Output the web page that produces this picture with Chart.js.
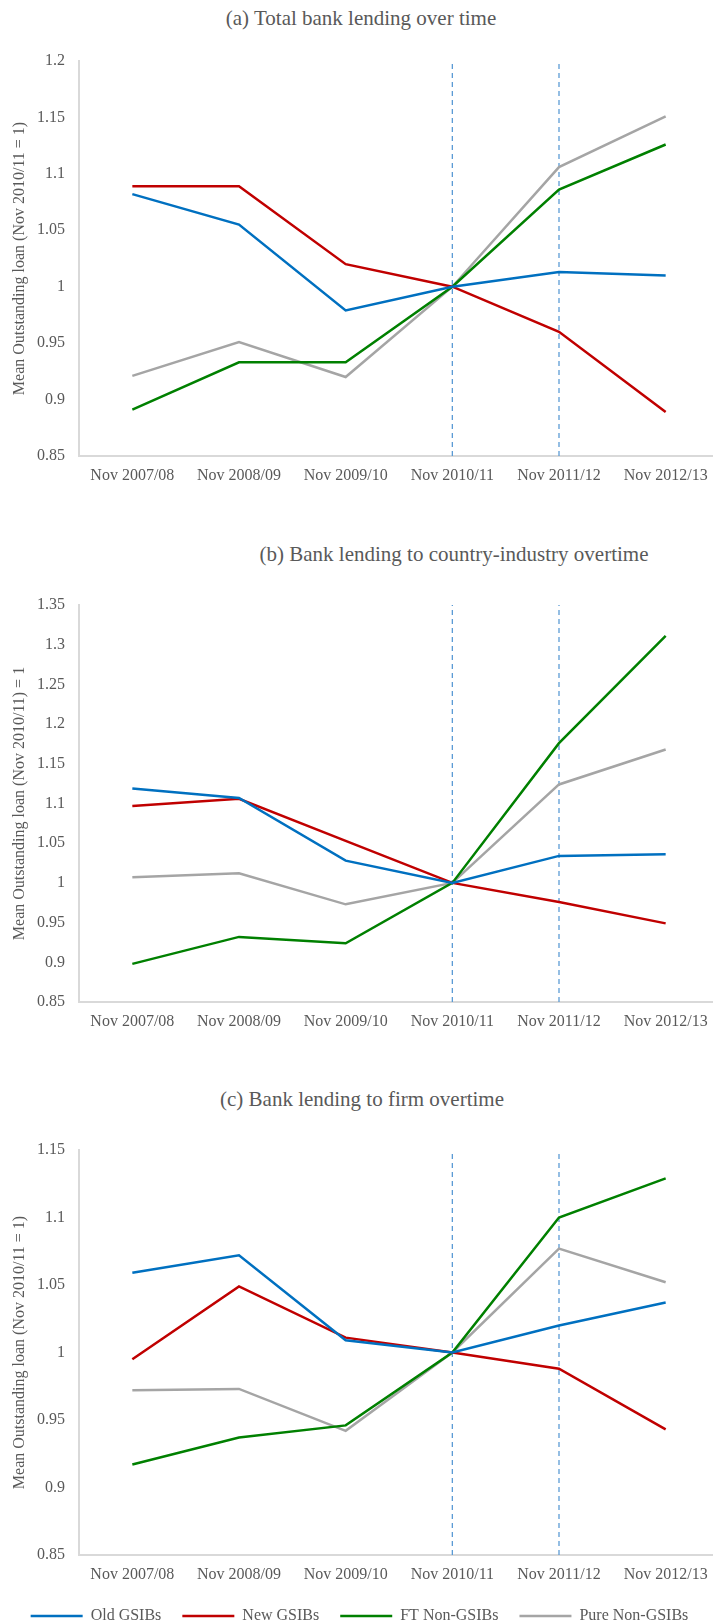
<!DOCTYPE html>
<html>
<head>
<meta charset="utf-8">
<script src="https://cdn.jsdelivr.net/npm/chart.js@4/dist/chart.umd.min.js"></script>
<style>
  html, body { margin: 0; padding: 0; background: #fff; overflow: hidden; }
  body { width: 713px; height: 1622px; position: relative; }
  .title {
    position: absolute; transform: translateX(-50%); white-space: nowrap;
    font-family: "Liberation Serif", "Times New Roman", serif; font-size: 21px;
    line-height: 24px; color: #595959;
  }
  canvas { position: absolute; left: 0; }
</style>
</head>
<body>
<div class="title" style="left:361px; top:6px;">(a) Total bank lending over time</div>
<div class="title" style="left:454px; top:542px;">(b) Bank lending to country-industry overtime</div>
<div class="title" style="left:362px; top:1087px;">(c) Bank lending to firm overtime</div>
<canvas id="chartA" width="719" height="496" style="top:0px"></canvas>
<canvas id="chartB" width="719" height="482" style="top:560px"></canvas>
<canvas id="chartC" width="719" height="524" style="top:1110px"></canvas>
<script>
const categories = ['Nov 2007/08', 'Nov 2008/09', 'Nov 2009/10', 'Nov 2010/11', 'Nov 2011/12', 'Nov 2012/13'];
const seriesNames = ['Old GSIBs', 'New GSIBs', 'FT Non-GSIBs', 'Pure Non-GSIBs'];
const seriesColors = ['#0070C0', '#C00000', '#008000', '#A5A5A5'];
const markerDates = ['Nov 2010/11', 'Nov 2011/12'];

// (a) total lending
const totalOld = [1.082, 1.055, 0.979, 1, 1.013, 1.010];
const totalNew = [1.089, 1.089, 1.020, 1, 0.960, 0.889];
const totalFT = [0.891, 0.933, 0.933, 1, 1.086, 1.126];
const totalPure = [0.921, 0.951, 0.920, 1, 1.106, 1.151];
const totalRange = [0.85, 1.2];

// (b) country-industry
const industryOld = [1.119, 1.107, 1.028, 1, 1.034, 1.036];
const industryNew = [1.097, 1.106, 1.053, 1, 0.976, 0.949];
const industryFT = [0.898, 0.932, 0.924, 1, 1.176, 1.311];
const industryPure = [1.007, 1.012, 0.973, 1, 1.124, 1.168];
const industryRange = [0.85, 1.35];

// (c) firm
const firmOld = [1.059, 1.072, 1.009, 1, 1.020, 1.037];
const firmNew = [0.995, 1.049, 1.011, 1, 0.988, 0.943];
const firmFT = [0.917, 0.937, 0.946, 1, 1.100, 1.129];
const firmPure = [0.972, 0.973, 0.942, 1, 1.077, 1.052];
const firmRange = [0.85, 1.15];

const yStep = 0.05;
const textColor = '#595959';
const serif = '"Liberation Serif", "Times New Roman", serif';

function makeChart(id, series, range, yTitle, opts) {
    const datasets = series.map((values, i) => ({
        label: seriesNames[i],
        data: values,
        borderColor: seriesColors[i],
        backgroundColor: seriesColors[i],
        borderWidth: 2.5,
        pointRadius: 0,
        tension: 0
    }));
    // vertical dashed markers
    markerDates.forEach(d => {
        datasets.push({
            label: 'marker',
            data: [{x: d, y: range[0]}, {x: d, y: range[1]}],
            borderColor: '#5B9BD5',
            borderWidth: 1.3,
            borderDash: [5, 4],
            pointRadius: 0
        });
    });

    new Chart(document.getElementById(id), {
        type: 'line',
        data: { labels: categories, datasets: datasets },
        options: {
            responsive: false,
            animation: false,
            layout: { padding: { top: opts.top, left: 0, right: 0, bottom: 0 } },
            plugins: {
                legend: {
                    display: opts.legend,
                    position: 'bottom',
                    labels: {
                        filter: item => item.datasetIndex < seriesNames.length,
                        usePointStyle: true,
                        pointStyle: 'line',
                        pointStyleWidth: 52,
                        padding: 21,
                        color: textColor,
                        font: { family: serif, size: 16 }
                    }
                },
                tooltip: { enabled: false }
            },
            scales: {
                x: {
                    offset: true,
                    grid: { display: false, drawTicks: false },
                    border: { color: '#D9D9D9', width: 2 },
                    ticks: { color: textColor, font: { family: serif, size: 16 }, padding: 10, maxRotation: 0, autoSkip: false },
                    afterFit: s => { s.height = opts.xHeight; }
                },
                y: {
                    min: range[0],
                    max: range[1],
                    grid: { display: false, drawTicks: false },
                    border: { color: '#D9D9D9', width: 2 },
                    ticks: {
                        stepSize: yStep,
                        color: textColor,
                        font: { family: serif, size: 16 },
                        padding: 14,
                        callback: v => String(+v.toFixed(2))
                    },
                    title: {
                        display: true,
                        text: yTitle,
                        color: textColor,
                        font: { family: serif, size: 16 },
                        padding: { top: 10, bottom: 0 }
                    },
                    afterFit: s => { s.width = 79; }
                }
            }
        }
    });
}

makeChart('chartA', [totalOld, totalNew, totalFT, totalPure], totalRange,
    'Mean Outstanding loan (Nov 2010/11 = 1)', { top: 61, xHeight: 40, legend: false });
makeChart('chartB', [industryOld, industryNew, industryFT, industryPure], industryRange,
    'Mean Outstanding loan (Nov 2010/11) = 1', { top: 45, xHeight: 40, legend: false });
makeChart('chartC', [firmOld, firmNew, firmFT, firmPure], firmRange,
    'Mean Outstanding loan (Nov 2010/11 = 1)', { top: 40, xHeight: 32, legend: true });
</script>
</body>
</html>
